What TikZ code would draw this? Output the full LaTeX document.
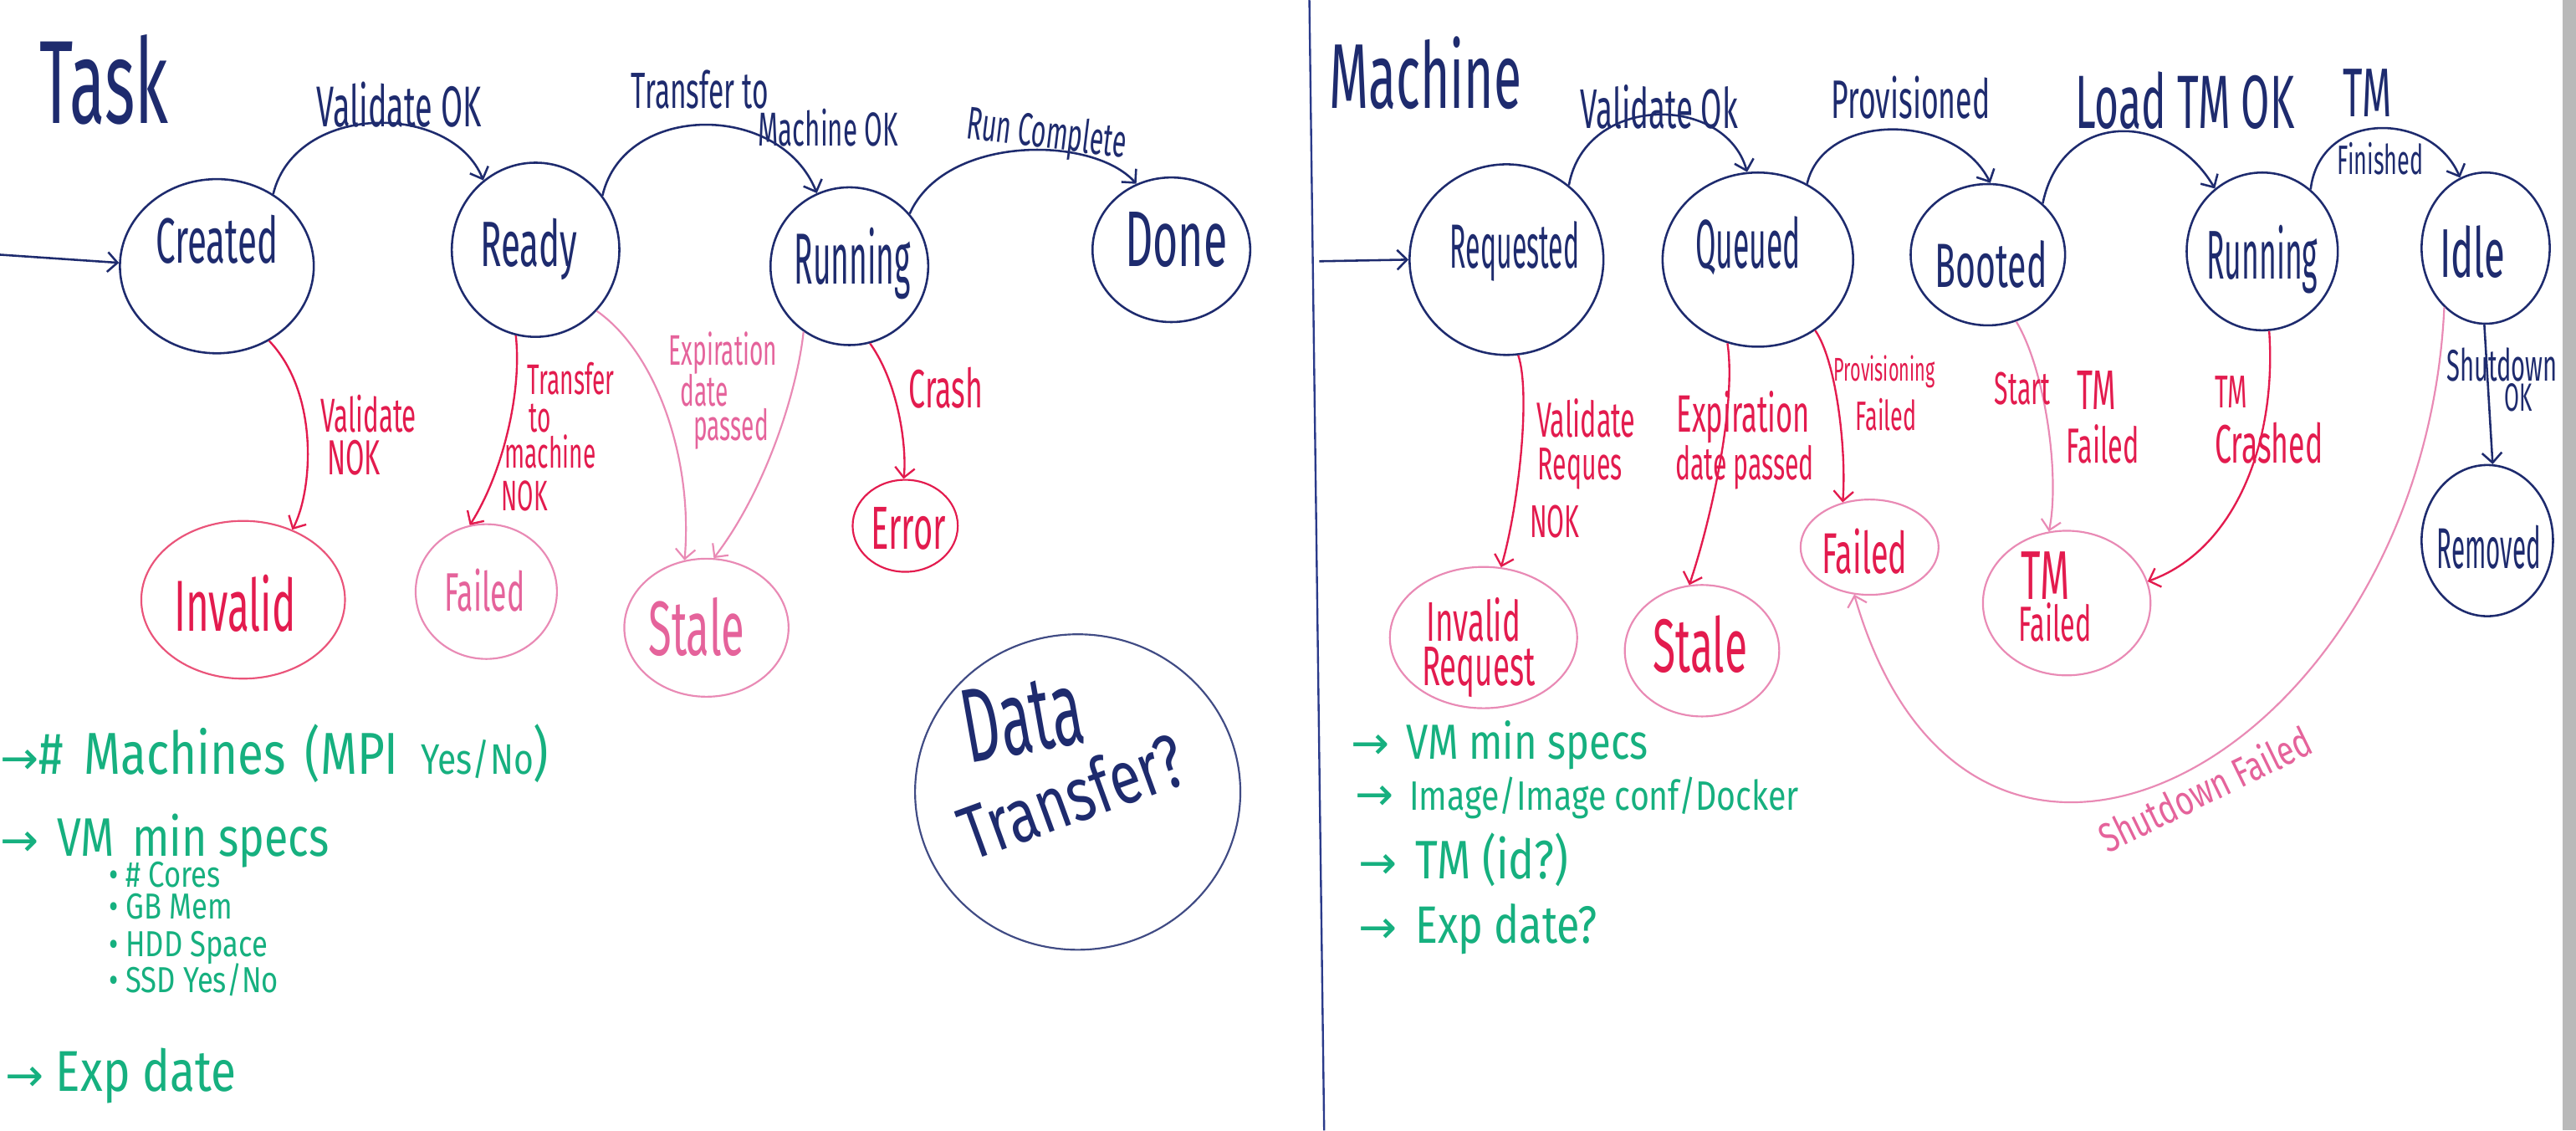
\documentclass[tikz,border=0pt]{standalone}
\usepackage{fontspec}
\usetikzlibrary{shapes.geometric,arrows.meta}
\newfontfamily\hw{Fira Sans}[FakeStretch=0.55]
\newfontfamily\hwn{Fira Sans}[FakeStretch=0.43]
\newfontfamily\hww{Fira Sans}[FakeStretch=0.75]
\newfontfamily\nt{Fira Sans}[FakeStretch=0.8]
\newfontfamily\dv{DejaVu Sans}
\definecolor{navy}{HTML}{1E2B6E}
\definecolor{divc}{HTML}{2A3A8A}
\definecolor{redc}{HTML}{E31B4E}
\definecolor{pinkc}{HTML}{E98AB5}
\definecolor{pinkt}{HTML}{E5639B}
\definecolor{greenc}{HTML}{16B07F}
\tikzset{
  st/.style={ellipse, draw=navy, line width=1.3pt, inner sep=0pt},
  fst/.style={ellipse, draw=pinkc, line width=1.1pt, inner sep=0pt},
  rst/.style={ellipse, draw=redc!75, line width=1.1pt, inner sep=0pt},
  fsz/.style={font=\hw\fontsize{#1}{#1}\selectfont},
  fszn/.style={font=\hwn\fontsize{#1}{#1}\selectfont},
  fszw/.style={font=\hww\fontsize{#1}{#1}\selectfont},
  nsz/.style={font=\nt\fontsize{#1}{#1}\selectfont, text=greenc},
  lb/.style={inner sep=0pt, anchor=base},
  lbw/.style={inner sep=0pt, anchor=base west},
  ar/.style={draw=navy, line width=1.3pt, -{Straight Barb[length=6pt,width=12pt]}},
  arr/.style={draw=redc, line width=1.2pt, -{Straight Barb[length=6pt,width=12pt]}},
  arp/.style={draw=pinkc, line width=1.1pt, -{Straight Barb[length=6pt,width=12pt]}},
}
\newcommand{\narr}{{\dv\fontsize{28}{28}\selectfont →}}
\begin{document}
\begin{tikzpicture}[x=1pt,y=-1pt]
\fill[white] (0,0) rectangle (1568,688);
\useasboundingbox (0,0) rectangle (1568,688);
% board edge and divider
\fill[gray!55] (1560,0) rectangle (1568,688);
\coordinate (divtop) at (797,0);
\coordinate (divbot) at (806,688);
\draw[divc, line width=1.2pt] (divtop) -- (divbot);

% ================= TASK =================
\node[lbw, fsz=72, text=navy] (ttitle) at (24,75) {Task};

\node[st, minimum width=118pt, minimum height=106pt] (tcreated) at (132,162) {};
\node[st, minimum width=102pt, minimum height=106pt] (tready) at (326,152) {};
\node[st, minimum width=96pt, minimum height=96pt] (trun) at (517,162) {};
\node[st, minimum width=96pt, minimum height=88pt] (tdone) at (713,152) {};
\node[rst, minimum width=124pt, minimum height=96pt] (tinv) at (148,365) {};
\node[fst, minimum width=86pt, minimum height=82pt] (tfail) at (296,360) {};
\node[fst, minimum width=100pt, minimum height=84pt] (tstale) at (430,382) {};
\node[ellipse, draw=redc, line width=1.1pt, inner sep=0pt, minimum width=64pt, minimum height=56pt] (terr) at (551,320) {};
\node[ellipse, draw=navy!85, line width=1.1pt, inner sep=0pt, minimum width=198pt, minimum height=192pt] (tdata) at (656,482) {};

\node[lb, fsz=39, text=navy] (tcreatedl) at (132,160) {Created};
\node[lb, fsz=39, text=navy] (treadyl) at (322,162) {Ready};
\node[lb, fszn=44, text=navy] (trunl) at (519,173) {Running};
\node[lb, fsz=48, text=navy] (tdonel) at (716,162) {Done};
\node[lb, fsz=44, text=redc] (tinvl) at (143,384) {Invalid};
\node[lb, fsz=33, text=pinkt] (tfaill) at (295,372) {Failed};
\node[lb, fsz=47, text=pinkt] (tstalel) at (424,399) {Stale};
\node[lb, fsz=37, text=redc] (terrl) at (553,334) {Error};
\node[lb, fsz=64, text=navy, rotate=10] (tdatal) at (626,458) {Data};
\node[lb, fszw=46, text=navy, rotate=20] (ttransl) at (658,500) {Transfer?};

\coordinate (tin) at (0,155);
\draw[ar] (tin) -- (tcreated.178);
\draw[ar] (tcreated.52) .. controls (180,62) and (275,62) .. (tready.127);
\draw[ar] (tready.39) .. controls (380,62) and (475,62) .. (trun.114);
\draw[ar] (trun.41) .. controls (575,82) and (665,82) .. (tdone.118);
\draw[arr] (tcreated.-55) .. controls (195,240) and (190,300) .. (tinv.55);
\draw[arr] (tready.-103) .. controls (318,240) and (305,290) .. (tfail.104);
\draw[arp] (tready.-45) .. controls (400,215) and (422,280) .. (tstale.108);
\draw[arp] (trun.-125) .. controls (485,240) and (465,300) .. (tstale.84);
\draw[arr] (trun.-75) .. controls (548,235) and (552,275) .. (terr.92);

\node[lb, fsz=35, text=navy] (tvok) at (243,77) {Validate OK};
\node[lb, fsz=31, text=navy] (ttr1) at (426,66) {Transfer to};
\node[lb, fsz=29, text=navy] (ttr2) at (504,89) {Machine OK};
\node[lb, fsz=28, text=navy, rotate=-7] (trc) at (636,90) {Run Complete};
\node[lbw, fsz=29, text=redc] (tvn1) at (195,263) {Validate};
\node[lbw, fsz=30, text=redc] (tvn2) at (199,289) {NOK};
\node[lbw, fsz=26, text=redc] (ttn1) at (321,240) {Transfer};
\node[lbw, fsz=26, text=redc] (ttn2) at (322,263) {to};
\node[lbw, fsz=26, text=redc] (ttn3) at (307,285) {machine};
\node[lbw, fsz=26, text=redc] (ttn4) at (305,311) {NOK};
\node[lbw, fsz=26, text=pinkt] (tex1) at (407,222) {Expiration};
\node[lbw, fsz=26, text=pinkt] (tex2) at (414,247) {date};
\node[lbw, fsz=26, text=pinkt] (tex3) at (422,268) {passed};
\node[lbw, fsz=33, text=redc] (tcrash) at (553,248) {Crash};

% task notes
\node[lbw, nsz=36] (tn1) at (0,471) {\narr\#\hspace{5pt} Machines\hspace{4pt} (MPI\hspace{6pt} {\fontsize{26}{26}\selectfont Yes/No})};
\node[lbw, nsz=33] (tn2) at (0,521) {\narr\hspace{4pt} VM\hspace{4pt} min specs};
\node[lbw, nsz=22] (tn3) at (66,540) {•\ \# Cores};
\node[lbw, nsz=22] (tn4) at (66,559) {•\ GB Mem};
\node[lbw, nsz=22] (tn5) at (66,582) {•\ HDD Space};
\node[lbw, nsz=22] (tn6) at (66,604) {•\ SSD Yes/No};
\node[lbw, nsz=35] (tn7) at (3,664) {\narr\ Exp date};

% ================= MACHINE =================
\node[lbw, fsz=56, text=navy] (mtitle) at (809,66) {Machine};

\node[st, minimum width=118pt, minimum height=116pt] (mreq) at (917,158) {};
\node[st, minimum width=116pt, minimum height=106pt] (mque) at (1070,158) {};
\node[st, minimum width=94pt, minimum height=86pt] (mboot) at (1210,155) {};
\node[st, minimum width=92pt, minimum height=96pt] (mrun) at (1377,153) {};
\node[st, minimum width=78pt, minimum height=92pt] (midle) at (1513,151) {};
\node[st, minimum width=80pt, minimum height=92pt] (mrem) at (1514,329) {};
\node[fst, minimum width=114pt, minimum height=86pt] (minv) at (903,388) {};
\node[fst, minimum width=94pt, minimum height=80pt] (mstale) at (1036,396) {};
\node[fst, minimum width=84pt, minimum height=58pt] (mfail) at (1138,333) {};
\node[fst, minimum width=102pt, minimum height=88pt] (mtmf) at (1258,367) {};

\node[lb, fszn=38, text=navy] (mreql) at (922,163) {Requested};
\node[lb, fszn=42, text=navy] (mquel) at (1064,163) {Queued};
\node[lb, fsz=38, text=navy] (mbootl) at (1212,175) {Booted};
\node[lb, fszn=42, text=navy] (mrunl) at (1377,170) {Running};
\node[lb, fsz=42, text=navy] (midlel) at (1505,169) {Idle};
\node[lb, fszn=35, text=navy] (mreml) at (1515,346) {Removed};
\node[lb, fsz=34, text=redc] (minvl1) at (897,390) {Invalid};
\node[lb, fsz=34, text=redc] (minvl2) at (900,417) {Request};
\node[lb, fsz=46, text=redc] (mstalel) at (1035,409) {Stale};
\node[lb, fsz=35, text=redc] (mfaill) at (1135,349) {Failed};
\node[lb, fsz=42, text=redc] (mtmfl1) at (1245,365) {TM};
\node[lb, fsz=30, text=redc] (mtmfl2) at (1251,390) {Failed};

\coordinate (min) at (803,159);
\draw[ar] (min) -- (mreq.180);
\draw[ar] (mreq.50) .. controls (965,57) and (1050,57) .. (mque.97);
\draw[ar] (mque.57) .. controls (1110,68) and (1190,68) .. (mboot.88);
\draw[ar] (mboot.43) .. controls (1255,67) and (1320,67) .. (mrun.127);
\draw[ar] (mrun.52) .. controls (1412,67) and (1480,67) .. (midle.110);
\draw[ar] (midle.-91) -- (mrem.86);
\draw[arr] (mreq.-83) .. controls (932,240) and (924,310) .. (minv.76);
\draw[arr] (mque.-110) .. controls (1057,245) and (1042,315) .. (mstale.101);
\draw[arr] (mque.-51) .. controls (1118,220) and (1124,275) .. (mfail.121);
\draw[arp] (mboot.-67) .. controls (1245,225) and (1254,290) .. (mtmf.104);
\draw[arr] (mrun.-85) .. controls (1386,270) and (1360,335) .. (mtmf.15);
\draw[arp] (midle.-125) .. controls (1475,460) and (1200,610) .. (mfail.-108);

\node[lb, fsz=34, text=navy] (mvok) at (1010,78) {Validate Ok};
\node[lb, fsz=33, text=navy] (mprov) at (1163,72) {Provisioned};
\node[lb, fsz=46, text=navy] (mload) at (1330,78) {Load TM OK};
\node[lb, fsz=42, text=navy] (mtm) at (1441,71) {TM};
\node[lb, fsz=25, text=navy] (mfin) at (1449,106) {Finished};
\node[lbw, fsz=30, text=redc] (mvr1) at (935,266) {Validate};
\node[lbw, fsz=28, text=redc] (mvr2) at (936,292) {Reques};
\node[lbw, fsz=28, text=redc] (mvr3) at (931,327) {NOK};
\node[lb, fsz=32, text=redc] (mex1) at (1061,263) {Expiration};
\node[lb, fsz=28, text=redc] (mex2) at (1062,292) {date passed};
\node[lb, fsz=20, text=redc] (mpf1) at (1147,232) {Provisioning};
\node[lb, fsz=25, text=redc] (mpf2) at (1148,262) {Failed};
\node[lb, fsz=28, text=redc] (mst1) at (1231,246) {Start};
\node[lb, fsz=34, text=redc] (mst2) at (1276,249) {TM};
\node[lb, fsz=30, text=redc] (mst3) at (1280,282) {Failed};
\node[lbw, fsz=28, text=redc] (mtc1) at (1348,248) {TM};
\node[lbw, fsz=33, text=redc] (mtc2) at (1348,282) {Crashed};
\node[lb, fsz=27, text=navy] (msd1) at (1523,232) {Shutdown};
\node[lb, fsz=24, text=navy] (msd2) at (1533,250) {OK};
\node[fszw=25, text=pinkt, rotate=26, inner sep=0pt] (msf) at (1342,480) {Shutdown Failed};

% machine notes
\node[lbw, nsz=30] (mn1) at (822,462) {\narr\hspace{4pt} VM min specs};
\node[lbw, nsz=25] (mn2) at (825,493) {\narr\hspace{4pt} Image/Image conf/Docker};
\node[lbw, nsz=33] (mn3) at (827,535) {\narr\hspace{4pt} TM (id?)};
\node[lbw, nsz=32] (mn4) at (827,574) {\narr\hspace{4pt} Exp date?};
\end{tikzpicture}
\end{document}
